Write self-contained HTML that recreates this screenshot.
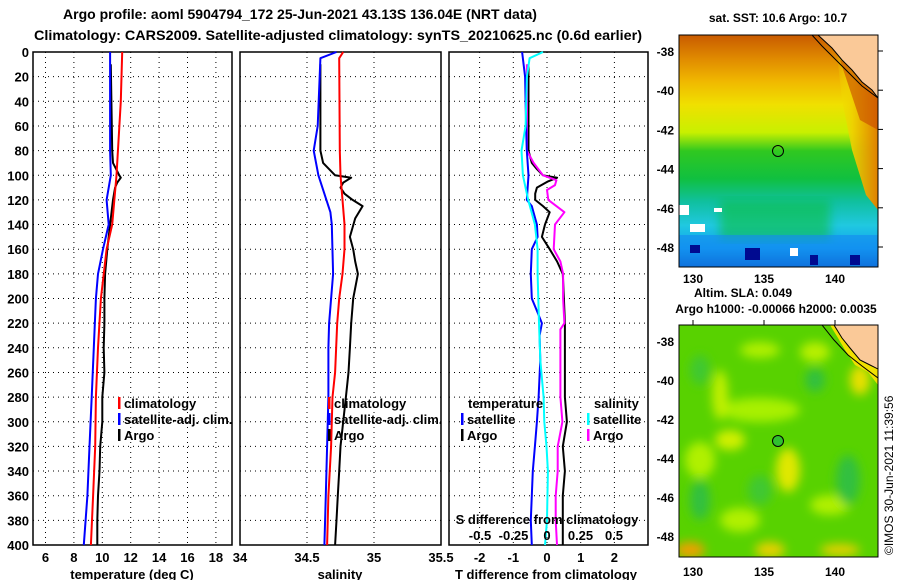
<!DOCTYPE html>
<html><head><meta charset="utf-8"><style>
html,body{margin:0;padding:0;background:#fff;}
svg{display:block;font-family:"Liberation Sans",sans-serif;font-weight:bold;}
</style></head><body>
<svg id="chart" width="900" height="580" viewBox="0 0 900 580" xmlns="http://www.w3.org/2000/svg">
<defs>
<linearGradient id="sstg" x1="0" y1="0" x2="0" y2="1">
<stop offset="0" stop-color="#c85a00"/><stop offset="0.1" stop-color="#e08a00"/><stop offset="0.2" stop-color="#f0b800"/>
<stop offset="0.3" stop-color="#f0e000"/><stop offset="0.42" stop-color="#c8f000"/><stop offset="0.5" stop-color="#30c820"/>
<stop offset="0.62" stop-color="#10c040"/><stop offset="0.72" stop-color="#10c0a0"/><stop offset="0.82" stop-color="#20c8e0"/>
<stop offset="0.92" stop-color="#10a0f0"/><stop offset="1" stop-color="#0850c0"/></linearGradient>
<linearGradient id="sstr" x1="0" y1="0" x2="1" y2="0">
<stop offset="0" stop-color="#f0e000" stop-opacity="0"/><stop offset="0.4" stop-color="#f0d000" stop-opacity="0.9"/><stop offset="1" stop-color="#e08000"/></linearGradient>
<clipPath id="c1"><rect x="679" y="35" width="199" height="232"/></clipPath>
<clipPath id="c2"><rect x="679" y="325" width="199" height="232"/></clipPath>
<filter id="blur"><feGaussianBlur stdDeviation="5"/></filter>
</defs>
<text x="300" y="19" text-anchor="middle" font-size="14">Argo profile: aoml 5904794_172 25-Jun-2021 43.13S 136.04E (NRT data)</text>
<text x="338" y="40" text-anchor="middle" font-size="14" textLength="608" lengthAdjust="spacingAndGlyphs">Climatology: CARS2009. Satellite-adjusted climatology: synTS_20210625.nc (0.6d earlier)</text>

<g clip-path="url(#c1)">
<rect x="679" y="35" width="199" height="232" fill="url(#sstg)"/>
<polygon points="835,35 878,35 878,210 866,195 852,150 842,100" fill="url(#sstr)"/>
<polygon points="840,60 878,80 878,130 860,120 850,90" fill="#c84800" opacity="0.6"/>
<rect x="720" y="200" width="110" height="40" fill="#10c040" opacity="0.6" filter="url(#blur)"/>
<rect x="679" y="235" width="199" height="32" fill="#1488f0" opacity="0.6"/>
<rect x="745" y="248" width="15" height="12" fill="#000a90"/><rect x="690" y="245" width="10" height="8" fill="#000a90"/>
<rect x="810" y="255" width="8" height="10" fill="#000a90"/><rect x="850" y="255" width="10" height="10" fill="#000a90"/>
<rect x="679" y="205" width="10" height="10" fill="#fff"/><rect x="714" y="208" width="8" height="4" fill="#fff"/>
<rect x="690" y="224" width="15" height="8" fill="#fff"/><rect x="790" y="248" width="8" height="8" fill="#fff"/>
<polygon points="818,35 878,35 878,98 872,90 862,82 852,70 842,60 832,48" fill="#fac998" stroke="#000" stroke-width="1"/>
<polyline points="812,35 822,46 836,60 848,72 862,86 878,98" fill="none" stroke="#000" stroke-width="1"/>
</g>
<rect x="679" y="35" width="199" height="232" fill="none" stroke="#000"/>
<circle cx="778" cy="151" r="5.5" fill="none" stroke="#000"/>
<text x="778" y="22" text-anchor="middle" font-size="12">sat. SST: 10.6 Argo: 10.7</text>

<g clip-path="url(#c2)">
<rect x="679" y="325" width="199" height="232" fill="#58d200"/>
<g filter="url(#blur)">
<ellipse cx="760" cy="350" rx="20" ry="8" fill="#b0f000"/><ellipse cx="815" cy="352" rx="15" ry="10" fill="#b8f000"/>
<ellipse cx="760" cy="410" rx="40" ry="12" fill="#a8f000"/><ellipse cx="720" cy="395" rx="8" ry="25" fill="#c0f000"/>
<ellipse cx="788" cy="470" rx="12" ry="22" fill="#e0e800"/><ellipse cx="700" cy="460" rx="15" ry="18" fill="#b0f000"/>
<ellipse cx="740" cy="520" rx="20" ry="12" fill="#b0f000"/><ellipse cx="830" cy="505" rx="20" ry="10" fill="#b0f000"/>
<ellipse cx="860" cy="380" rx="10" ry="15" fill="#e8e000"/><ellipse cx="690" cy="550" rx="15" ry="8" fill="#f0a000"/>
<ellipse cx="770" cy="550" rx="15" ry="8" fill="#e8d000"/><ellipse cx="840" cy="550" rx="20" ry="6" fill="#e8d000"/>
<ellipse cx="700" cy="500" rx="10" ry="20" fill="#30c040"/><ellipse cx="848" cy="480" rx="12" ry="25" fill="#30c040"/>
<ellipse cx="815" cy="380" rx="10" ry="12" fill="#30c040"/><ellipse cx="700" cy="370" rx="10" ry="15" fill="#40c830"/>
<ellipse cx="760" cy="490" rx="12" ry="15" fill="#40c830"/><ellipse cx="730" cy="440" rx="15" ry="10" fill="#d0f000"/>
</g>
<polygon points="830,325 878,325 878,385 868,372 855,365 845,350 838,338" fill="#f0e000"/>
<polygon points="834,325 878,325 878,369 870,365 860,360 850,348 842,338" fill="#fac998" stroke="#000" stroke-width="1"/>
<polyline points="822,325 834,340 848,355 862,366 878,378" fill="none" stroke="#000" stroke-width="1"/>
</g>
<rect x="679" y="325" width="199" height="232" fill="none" stroke="#000"/>
<circle cx="778" cy="441" r="5.5" fill="#30c030" stroke="#000"/>
<text x="743" y="297" text-anchor="middle" font-size="12">Altim. SLA: 0.049</text>
<text x="776" y="313" text-anchor="middle" font-size="12">Argo h1000: -0.00066 h2000: 0.0035</text>
<text transform="translate(893,555) rotate(-90)" font-size="12" font-weight="normal">©IMOS 30-Jun-2021 11:39:56</text>
<g id="root"></g>
</svg>
<script>
// ---- data ----
const depthTicks = [0,20,40,60,80,100,120,140,160,180,200,220,240,260,280,300,320,340,360,380,400];
const tempTicks = [6,8,10,12,14,16,18];
const salTicks = [34,34.5,35,35.5];
const salTickLabels = ["34","34.5","35","35.5"];
const tdiffTicks = [-2,-1,0,1,2];
const sdiffTicks = [-0.5,-0.25,0,0.25,0.5];
const sdiffTickLabels = ["-0.5","-0.25","0","0.25","0.5"];
const latTicks = [-38,-40,-42,-44,-46,-48];
const lonTicks = [130,135,140];

const climTDepth = [0,40,100,140,160,200,240,280,320,360,400];
const climT = [11.4,11.3,11.0,10.7,10.3,9.9,9.7,9.55,9.5,9.35,9.2];
const satTDepth = [0,80,100,120,140,160,180,200,240,280,320,360,400];
const satT = [10.55,10.55,10.6,10.3,10.45,10.05,9.7,9.55,9.4,9.25,9.1,8.95,8.7];
const argoTDepth = [10,80,90,100,102,106,110,120,140,160,180,200,220,240,260,280,300,320,340,360,380,400];
const argoT = [10.6,10.7,10.75,11.2,11.3,11.05,10.9,10.75,10.55,10.35,10.2,10.15,10.15,10.1,10.15,10.0,10.0,9.85,9.8,9.7,9.65,9.65];

const climSDepth = [0,5,80,100,140,160,180,200,220,260,280,320,360,400];
const climS = [34.77,34.74,34.745,34.75,34.78,34.78,34.765,34.74,34.725,34.71,34.69,34.68,34.66,34.65];
const satSDepth = [0,5,60,80,100,120,130,140,180,220,240,260,280,320,360,400];
const satS = [34.72,34.6,34.58,34.55,34.585,34.645,34.675,34.685,34.695,34.665,34.66,34.66,34.66,34.65,34.64,34.63];
const argoSDepth = [10,80,90,100,102,106,110,115,120,125,135,150,160,170,180,200,220,240,260,280,320,340,360,380,400];
const argoS = [34.6,34.6,34.62,34.71,34.83,34.77,34.75,34.78,34.84,34.915,34.86,34.82,34.845,34.86,34.88,34.845,34.83,34.82,34.81,34.79,34.75,34.74,34.73,34.72,34.71];

const tdSatDepth = [0,20,60,80,100,120,125,140,150,160,180,200,210,220,230,250,280,300,320,340,360,380,400];
const tdSat = [-0.74,-0.65,-0.62,-0.6,-0.55,-0.6,-0.45,-0.3,-0.28,-0.45,-0.48,-0.45,-0.3,-0.15,-0.22,-0.2,-0.25,-0.3,-0.36,-0.42,-0.45,-0.48,-0.45];
const tdArgoDepth = [10,80,90,95,100,102,105,110,115,120,125,130,140,150,160,170,180,200,220,280,300,320,340,360,380,400];
const tdArgo = [-0.55,-0.55,-0.45,-0.3,-0.12,0.3,0.03,-0.3,-0.35,-0.35,-0.12,0.08,-0.06,-0.15,0.08,0.3,0.47,0.5,0.53,0.53,0.59,0.47,0.53,0.47,0.47,0.47];
const sdSatDepth = [0,5,20,60,80,100,120,140,160,180,220,250,280,300,320,340,380,400];
const sdSat = [-0.03,-0.13,-0.15,-0.16,-0.19,-0.18,-0.14,-0.09,-0.07,-0.07,-0.06,-0.05,-0.025,-0.02,-0.004,0.007,0.0,-0.015];
const sdArgoDepth = [10,80,90,100,104,108,112,120,130,140,160,170,180,200,220,225,280,300,320,340,360,380,400];
const sdArgo = [-0.15,-0.15,-0.1,-0.03,0.07,0.06,0.0,0.01,0.13,0.06,0.05,0.1,0.12,0.12,0.13,0.1,0.1,0.115,0.08,0.08,0.065,0.065,0.075];

// ---- axes ----
const Y0 = 52, Y1 = 545;
function yD(d){ return Y0 + (d/400)*(Y1-Y0); }
function xT(t){ return 45.5 + (t-6)*14.2; }
function xS(s){ return 240 + (s-34)*134; }
function xTD(v){ return 547 + v*33.7; }
function xSD(v){ return 547 + v*134; }
function latY1(l){ return 51 + (-38-l)*19.6; }
function latY2(l){ return 341 + (-38-l)*19.5; }
function lonX(l){ return 693 + (l-130)*14.2; }

const NS = "http://www.w3.org/2000/svg";
const root = document.getElementById('root');
function mk(tag, attrs, parent){
  const e = document.createElementNS(NS, tag);
  for (const k in attrs) e.setAttribute(k, attrs[k]);
  (parent||root).appendChild(e);
  return e;
}
function txt(x,y,s,anchor,size){
  const t = mk('text',{x:x,y:y,'text-anchor':anchor||'middle','font-size':size||13});
  t.textContent = s;
  return t;
}

const panels = [
  {name:'temperature', x0:33, x1:232, ticks:tempTicks, labels:tempTicks.map(String), fx:xT, title:'temperature (deg C)', tx:132},
  {name:'salinity', x0:240, x1:441, ticks:salTicks, labels:salTickLabels, fx:xS, title:'salinity', tx:340},
  {name:'difference', x0:449, x1:648, ticks:tdiffTicks, labels:tdiffTicks.map(String), fx:xTD, title:'T difference from climatology', tx:546}
];
panels.forEach(p=>{
  const g = mk('g',{});
  
  
  depthTicks.forEach(d=>{
    if(d===0||d===400) return;
    const l = mk('line',{x1:p.x0,x2:p.x1,y1:yD(d),y2:yD(d),stroke:'#000','stroke-width':1,'stroke-dasharray':'1,4'},g);
    
    
  });
  p.ticks.forEach((t,i)=>{
    const x = p.fx(t);
    if (x>p.x0+1 && x<p.x1-1){
      const l = mk('line',{x1:x,x2:x,y1:Y0,y2:Y1,stroke:'#000','stroke-width':1,'stroke-dasharray':'1,4'},g);
      
      
    }
    const tl = txt(x, 562, p.labels[i]);
    g.appendChild(tl);
    
    
  });
  const fr = mk('rect',{x:p.x0,y:Y0,width:p.x1-p.x0,height:Y1-Y0,fill:'none',stroke:'#000','stroke-width':1.5},g);
  
  
  const at = txt(p.tx, 579, p.title);
  g.appendChild(at);
  
  
});
depthTicks.forEach(d=>{
  const t = txt(29, yD(d)+5, String(d), 'end');
  
  
});

function series(depths, vals, fx, color, name){
  const pts = depths.map((d,i)=> fx(vals[i]).toFixed(1)+','+yD(d).toFixed(1)).join(' ');
  const pl = mk('polyline',{points:pts,fill:'none',stroke:color,'stroke-width':2,'stroke-linejoin':'round'});
  
  
}
series(argoTDepth, argoT, xT, '#000', 'argo-temperature-line');
series(climTDepth, climT, xT, '#ff0000', 'climatology-temperature-line');
series(satTDepth, satT, xT, '#0000ff', 'satellite-temperature-line');
series(argoSDepth, argoS, xS, '#000', 'argo-salinity-line');
series(climSDepth, climS, xS, '#ff0000', 'climatology-salinity-line');
series(satSDepth, satS, xS, '#0000ff', 'satellite-salinity-line');
series(tdArgoDepth, tdArgo, xTD, '#000', 'argo-t-diff-line');
series(sdArgoDepth, sdArgo, xSD, '#ff00ff', 'argo-s-diff-line');
series(tdSatDepth, tdSat, xTD, '#0000ff', 'satellite-t-diff-line');
series(sdSatDepth, sdSat, xSD, '#00ffff', 'satellite-s-diff-line');

function legend(x, y, color, label, name){
  const r = mk('rect',{x:x,y:y-11,width:2.5,height:12,fill:color});
  
  
  const t = txt(x+6, y, label, 'start', 13);
  
  
}
legend(118, 408, '#ff0000', 'climatology', 'legend-climatology-t');
legend(118, 424, '#0000ff', 'satellite-adj. clim.', 'legend-satellite-t');
legend(118, 440, '#000', 'Argo', 'legend-argo-t');
legend(328, 408, '#ff0000', 'climatology', 'legend-climatology-s');
legend(328, 424, '#0000ff', 'satellite-adj. clim.', 'legend-satellite-s');
legend(328, 440, '#000', 'Argo', 'legend-argo-s');
const lt = txt(468, 408, 'temperature', 'start');


const ls = txt(594, 408, 'salinity', 'start');


legend(461, 424, '#0000ff', 'satellite', 'legend-t-diff-satellite');
legend(461, 440, '#000', 'Argo', 'legend-t-diff-argo');
legend(587, 424, '#00ffff', 'satellite', 'legend-s-diff-satellite');
legend(587, 440, '#ff00ff', 'Argo', 'legend-s-diff-argo');

const sdt = txt(547, 524, 'S difference from climatology');


sdiffTicks.forEach((v,i)=>{
  const t = txt(xSD(v), 540, sdiffTickLabels[i]);
  
  
});

// map axes
latTicks.forEach(l=>{
  const a = txt(674, latY1(l)+5, String(l), 'end', 12);
  
  
  const tk = mk('line',{x1:878,x2:883,y1:latY1(l),y2:latY1(l),stroke:'#000'});
  
  
  const b = txt(674, latY2(l)+5, String(l), 'end', 12);
  
  
});
lonTicks.forEach(l=>{
  const a = txt(lonX(l), 283, String(l), 'middle', 12);
  
  
  const tk = mk('line',{x1:lonX(l),x2:lonX(l),y1:320,y2:325,stroke:'#000'});
  
  
  const b = txt(lonX(l), 576, String(l), 'middle', 12);
  
  
});
</script>
</body></html>
